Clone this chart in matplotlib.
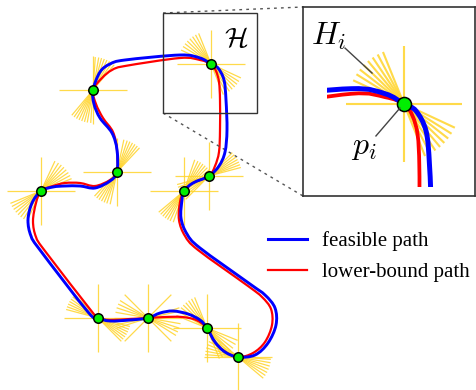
import matplotlib
matplotlib.use("Agg")
import matplotlib.pyplot as plt
import numpy as np
from matplotlib.path import Path
from matplotlib.patches import PathPatch, Rectangle
from matplotlib.collections import LineCollection
from matplotlib.lines import Line2D

plt.rcParams["mathtext.fontset"] = "cm"

# waypoints p_i, drawing frame in px (y grows downwards)
way_x = [93, 211, 117, 41, 184, 209, 98, 148, 207, 238]
way_y = [90, 64, 172, 191, 191, 176, 318, 318, 328, 357]

# sampled headings of each H_i (deg, counter-clockwise)
fan_deg = [
    [50, 55, 60, 65, 70, 75, 80, 86],
    [112, 118, 124, 130, 136, 142, 148, 155],
    [47, 52, 57, 62, 67, 72, 78],
    [22, 28, 34, 40, 46, 52, 58, 65],
    [40, 45, 50, 55, 60, 65, 71],
    [15, 20, 25, 30, 35, 40, 45],
    [135, 140, 145, 150, 155, 160, 165],
    [45, 135, 148, 155, 162, 170, 12, 18],
    [112, 118, 124, 130, 136, 142, 150, 158],
    [140, 146, 152, 158, 164, 170, 176],
]

# closed loops through the waypoints
blue_x = [41, 32, 28, 31, 40, 88, 98, 110, 130, 148, 160, 173, 188, 200, 207,
          215, 225, 238, 255, 268, 276, 275, 265, 250, 200, 187, 181, 182, 184,
          193, 209, 219, 225, 227, 226, 224, 218, 211, 200, 180, 125, 110, 100,
          93, 94, 100, 112, 117, 117, 110, 95, 80, 65, 53]
blue_y = [191, 203, 220, 236, 250, 312, 318, 321, 320, 318, 313, 311, 314, 320, 328,
          342, 352, 357, 355, 343, 325, 308, 295, 284, 248, 234, 218, 200, 191,
          183, 176, 166, 152, 130, 100, 80, 68, 64, 58, 55, 60, 64, 72,
          90, 104, 118, 133, 150, 172, 181, 188, 186, 186, 187]

red_x = [41, 36, 33, 36, 45, 93, 98, 110, 130, 148, 165, 182, 196, 207,
         214, 224, 238, 253, 265, 272, 271, 262, 248, 198, 185, 179, 180, 184,
         193, 209, 215, 219, 220, 220, 219, 216, 211, 200, 180, 125, 112, 102,
         93, 96, 103, 113, 117, 117, 110, 95, 80, 65, 53]
red_y = [191, 203, 221, 237, 251, 313, 318, 320, 319, 318, 317, 317, 320, 328,
         341, 351, 357, 353, 342, 325, 309, 297, 286, 250, 236, 220, 202, 191,
         183, 176, 166, 152, 130, 100, 82, 71, 64, 60, 58, 66, 70, 78,
         90, 104, 118, 132, 150, 172, 180, 186, 183, 183, 186]

labels = ["feasible path", "lower-bound path"]

zoom_box = (163, 13, 94, 100)   # region shown enlarged, x, y, w, h
YELLOW = "#ffd42a"


def smooth_loop(xs, ys):
    p = np.column_stack([xs, ys]).astype(float)
    n = len(p)
    verts, codes = [p[0]], [Path.MOVETO]
    for i in range(n):
        a, b, c, d = p[i - 1], p[i], p[(i + 1) % n], p[(i + 2) % n]
        verts += [b + (c - a) / 6, c - (d - b) / 6, c]
        codes += [Path.CURVE4] * 3
    return Path(verts, codes)


def fan_segments(idx, r_cross=34, r_fan=33):
    segs = []
    for i in idx:
        x, y = way_x[i], way_y[i]
        segs.append([(x - r_cross, y), (x + r_cross, y)])
        segs.append([(x, y - r_cross), (x, y + r_cross)])
        for a in np.radians(fan_deg[i]):
            dx, dy = r_fan * np.cos(a), -r_fan * np.sin(a)
            segs.append([(x - dx, y - dy), (x + dx, y + dy)])
    return segs


def draw_scene(ax, idx, scale, clip=None):
    arts = []
    arts.append(ax.add_collection(LineCollection(
        fan_segments(idx), colors=YELLOW, linewidths=0.9 * scale, alpha=0.85, zorder=1)))
    for xs, ys, col, lw, z in [(red_x, red_y, "#ff0000", 1.6, 2), (blue_x, blue_y, "#0000ff", 2.1, 3)]:
        arts.append(ax.add_patch(PathPatch(smooth_loop(xs, ys), fill=False, edgecolor=col,
                                           lw=lw * scale, capstyle="round", joinstyle="round",
                                           zorder=z)))
    arts += ax.plot([way_x[i] for i in idx], [way_y[i] for i in idx], "o", ms=6.8 * scale ** 0.75,
                    mfc="#00ee00", mec="black", mew=1.1, zorder=4)
    if clip is not None:
        for a in arts:
            a.set_clip_path(clip)


fig = plt.figure(figsize=(4.77, 3.9), dpi=100)
ax = fig.add_axes([0, 0, 1, 1])
ax.set_xlim(0, 477)
ax.set_ylim(390, 0)
ax.axis("off")

draw_scene(ax, range(len(way_x)), 1.0)

bx, by, bw, bh = zoom_box
ax.add_patch(Rectangle((bx, by), bw, bh, fill=False, ec="#333333", lw=1.0, zorder=5))
ax.text(bx + bw - 21, by + 26, r"$\mathcal{H}$", fontsize=20, ha="center", va="center", zorder=6)

# enlarged view of the box
ins_l, ins_t, ins_r, ins_b = 303, 7, 475, 196
ax.plot([bx, ins_l], [by, ins_t], ls=(0, (2, 3)), color="#555555", lw=1.0)
ax.plot([bx, ins_l], [by + bh, ins_b], ls=(0, (2, 3)), color="#555555", lw=1.0)

axi = fig.add_axes([ins_l / 477, 1 - ins_b / 390, (ins_r - ins_l) / 477, (ins_b - ins_t) / 390])
k = 1.7
axi.set_xlim(211 - (404 - ins_l) / k, 211 + (ins_r - 404) / k)
axi.set_ylim(64 + (ins_b - 104) / k, 64 - (104 - ins_t) / k)
axi.set_xticks([])
axi.set_yticks([])
for s in axi.spines.values():
    s.set_color("#333333")
    s.set_linewidth(1.2)
clip = Rectangle((bx + 3, by), bw - 3, bh, transform=axi.transData)
draw_scene(axi, [1], k, clip=clip)

# labels of H_i and p_i with leader lines
axi.text(166.5, 24, r"$H_i$", fontsize=23, ha="center", va="center")
axi.plot([176.3, 192.2], [31.1, 45.8], color="#444444", lw=1.0, zorder=5)
axi.text(187.5, 89, r"$p_i$", fontsize=23, ha="center", va="center")
axi.plot([194.5, 208.6], [82.8, 66.4], color="#444444", lw=1.0, zorder=5)

handles = [Line2D([], [], color="#0000ff", lw=2.2), Line2D([], [], color="#ff0000", lw=1.6)]
ax.legend(handles, labels, loc="upper left", bbox_to_anchor=(268 / 477, 1 - 231 / 390),
          frameon=False, prop={"family": "Liberation Serif", "size": 15},
          handlelength=1.85, handletextpad=0.72, labelspacing=0.55, borderaxespad=0,
          borderpad=0)

fig.savefig("out.png", dpi=100)
